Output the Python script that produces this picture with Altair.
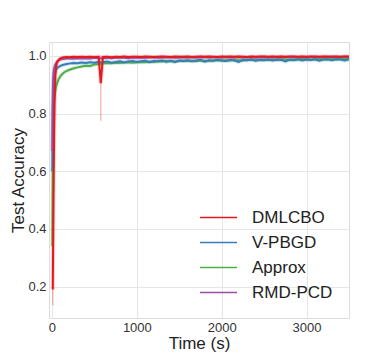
import altair as alt
import pandas as pd

series_names = ["DMLCBO", "V-PBGD", "Approx", "RMD-PCD"]
series_colors = ["#e41a1c", "#377eb8", "#4daf4a", "#984ea3"]

time_s = [5, 10, 15, 20, 25, 30, 40, 50, 60, 80, 100, 125, 150, 175, 200, 250, 300, 350, 400, 450, 500, 550, 575,
          600, 650, 700, 750, 800, 850, 900, 950, 1000, 1050,
          1100, 1150, 1200, 1250, 1300, 1350, 1400, 1450, 1500, 1550,
          1600, 1650, 1700, 1750, 1800, 1850, 1900, 1950, 2000, 2050,
          2100, 2150, 2200, 2250, 2300, 2350, 2400, 2450, 2500, 2550,
          2600, 2650, 2700, 2750, 2800, 2850, 2900, 2950, 3000, 3050,
          3100, 3150, 3200, 3250, 3300, 3350, 3400, 3450, 3500]

dmlcbo = [None, 0.19, 0.40, 0.58, 0.72, 0.83, 0.93, 0.965, 0.978, 0.987, 0.991, 0.994, 0.995, 0.996, 0.995, 0.997, 0.996, 0.997, 0.996, 0.997, 0.996, 0.997, 0.905,
          0.996, 0.997, 0.995, 0.997, 0.996, 0.998, 0.996, 0.997, 0.997, 0.996,
          0.998, 0.997, 0.996, 0.997, 0.998, 0.997, 0.996, 0.998, 0.997, 0.997,
          0.998, 0.996, 0.997, 0.998, 0.997, 0.998, 0.997, 0.996, 0.998, 0.997,
          0.998, 0.997, 0.998, 0.997, 0.996, 0.998, 0.997, 0.998, 0.998, 0.997,
          0.998, 0.997, 0.998, 0.997, 0.998, 0.998, 0.997, 0.998, 0.997, 0.998,
          0.998, 0.997, 0.998, 0.997, 0.998, 0.998, 0.997, 0.998, 0.998]

vpbgd = [0.60, 0.82, 0.89, 0.915, 0.93, 0.94, 0.948, 0.953, 0.957, 0.962, 0.965, 0.968, 0.970, 0.972, 0.973, 0.975, 0.974, 0.977, 0.975, 0.978, 0.976, 0.979, 0.977,
         0.978, 0.980, 0.976, 0.979, 0.981, 0.977, 0.980, 0.982, 0.979, 0.981,
         0.983, 0.978, 0.982, 0.981, 0.984, 0.980, 0.983, 0.979, 0.984, 0.982,
         0.985, 0.981, 0.984, 0.986, 0.980, 0.985, 0.983, 0.986, 0.984, 0.982,
         0.986, 0.984, 0.979, 0.986, 0.985, 0.987, 0.983, 0.986, 0.985, 0.987,
         0.984, 0.987, 0.986, 0.981, 0.987, 0.985, 0.988, 0.984, 0.987, 0.986,
         0.988, 0.983, 0.987, 0.988, 0.985, 0.988, 0.987, 0.984, 0.988]

approx = [0.34, 0.62, 0.76, 0.82, 0.85, 0.865, 0.88, 0.895, 0.905, 0.92, 0.93, 0.938, 0.944, 0.948, 0.951, 0.956, 0.960, 0.963, 0.966, 0.965, 0.970, 0.972, 0.971,
          0.973, 0.975, 0.974, 0.976, 0.975, 0.977, 0.978, 0.976, 0.978, 0.979,
          0.978, 0.980, 0.979, 0.981, 0.980, 0.982, 0.981, 0.980, 0.982, 0.983,
          0.982, 0.983, 0.981, 0.984, 0.983, 0.982, 0.984, 0.985, 0.984, 0.985,
          0.984, 0.986, 0.985, 0.984, 0.986, 0.987, 0.985, 0.986, 0.987, 0.986,
          0.987, 0.986, 0.988, 0.987, 0.986, 0.988, 0.987, 0.989, 0.988, 0.987,
          0.988, 0.989, 0.988, 0.987, 0.989, 0.988, 0.990, 0.989, 0.989]

rmdpcd = [0.67, 0.85, 0.92, 0.945, 0.955, 0.962, 0.970, 0.975, 0.979, 0.984, 0.987, 0.989, 0.990, 0.991, 0.991, 0.990, 0.992, 0.991, 0.992, 0.991, 0.993, 0.992, 0.992,
          0.992, 0.993, 0.992, 0.993, 0.994, 0.993, 0.992, 0.994, 0.993, 0.994,
          0.993, 0.994, 0.995, 0.993, 0.994, 0.994, 0.995, 0.993, 0.994, 0.995,
          0.994, 0.995, 0.994, 0.995, 0.996, 0.994, 0.995, 0.995, 0.994, 0.996,
          0.995, 0.994, 0.996, 0.995, 0.995, 0.996, 0.994, 0.995, 0.996, 0.995,
          0.996, 0.995, 0.996, 0.995, 0.996, 0.996, 0.995, 0.996, 0.995, 0.996,
          0.996, 0.995, 0.996, 0.997, 0.995, 0.996, 0.996, 0.997, 0.996]

# red shaded band extremes (spread of runs)
band_time = [10, 575]
band_lo = [0.135, 0.775]
band_hi = [0.19, 0.905]

x_ticks = [0, 1000, 2000, 3000]
y_ticks = [0.2, 0.4, 0.6, 0.8, 1.0]

values_by_series = {"DMLCBO": dmlcbo, "V-PBGD": vpbgd, "Approx": approx, "RMD-PCD": rmdpcd}
draw_order = ["Approx", "V-PBGD", "RMD-PCD", "DMLCBO"]
rows = []
for k, name in enumerate(draw_order):
    for t, v in zip(time_s, values_by_series[name]):
        if v is not None:
            rows.append({"time": t, "acc": v, "method": name, "ord": k})
df = pd.DataFrame(rows)
band_df = pd.DataFrame({"time": band_time, "lo": band_lo, "hi": band_hi})

FONT = "Liberation Sans"
xscale = alt.Scale(domain=[-35, 3500], nice=False, zero=False)
yscale = alt.Scale(domain=[0.091, 1.048], nice=False, zero=False)
color = alt.Color("method:N", scale=alt.Scale(domain=series_names, range=series_colors),
                  legend=alt.Legend(title=None, orient="none", legendX=150, legendY=163,
                                    symbolType="stroke", symbolSize=1369, symbolStrokeWidth=1.6,
                                    symbolOpacity=1,
                                    clipHeight=25, rowPadding=0, padding=0,
                                    labelFontSize=17, labelFont=FONT, labelColor="#222222",
                                    labelOffset=14))

x_enc = alt.X("time:Q", scale=xscale, title="Time (s)",
              axis=alt.Axis(values=x_ticks, format="d", grid=True, ticks=False, domain=False,
                            labelFontSize=13, labelFont=FONT, labelColor="#333333", labelPadding=3,
                            titleFontSize=17, titleFont=FONT, titleFontWeight="normal",
                            titleColor="#222222", titlePadding=1, gridColor="#e6e6e6"))
y_enc = alt.Y("acc:Q", scale=yscale, title="Test Accuracy",
              axis=alt.Axis(values=y_ticks, format=".1f", grid=True, ticks=False, domain=False,
                            labelFontSize=13, labelFont=FONT, labelColor="#333333", labelPadding=3,
                            titleFontSize=17, titleFont=FONT, titleFontWeight="normal",
                            titleColor="#222222", titlePadding=0, gridColor="#e6e6e6"))

halo = alt.Chart(df).mark_line(strokeWidth=4, opacity=0.2).encode(
    x=x_enc, y=y_enc, color=color, order="ord:Q", detail="method:N")
lines = alt.Chart(df).mark_line(strokeWidth=2).encode(
    x=alt.X("time:Q", scale=xscale), y=alt.Y("acc:Q", scale=yscale), color=color,
    order="ord:Q", detail="method:N")
bands = alt.Chart(band_df).mark_rule(color="#e41a1c", opacity=0.3, strokeWidth=1.5).encode(
    x=alt.X("time:Q", scale=xscale), y=alt.Y("lo:Q", scale=yscale), y2="hi:Q")

chart = alt.layer(halo, bands, lines).properties(
    width=300, height=276,
    autosize=alt.AutoSizeParams(type="none"),
    padding={"left": 41, "top": 34, "right": 31, "bottom": 40},
).configure_view(stroke="#d6d6d6", strokeWidth=1.2).configure(background="white")

chart.save("out.html", embed_options={"renderer": "svg", "actions": False})
